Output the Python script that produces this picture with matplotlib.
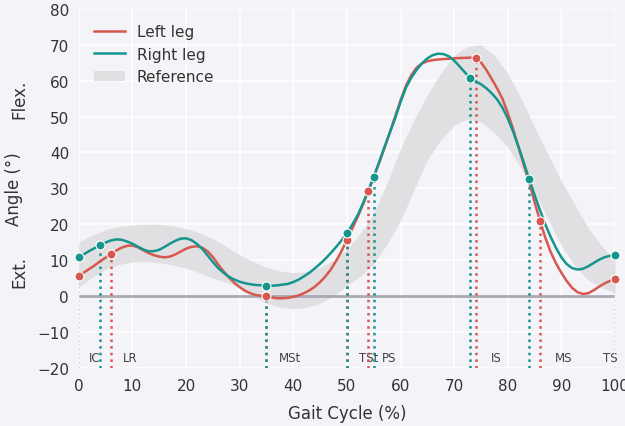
import numpy as np
import matplotlib
matplotlib.use("Agg")
import matplotlib.pyplot as plt
from matplotlib.patches import Patch
from matplotlib.lines import Line2D

# gait cycle (%) and knee angles, one value per 1 %
cycle = list(range(0, 101))
left_y = [5.7, 6.6, 7.6, 8.6, 9.7, 10.7, 11.7, 12.7, 13.5, 14.0,
          14.1, 13.6, 12.8, 12.0, 11.4, 11.0, 10.8, 11.0, 11.6, 12.4,
          13.2, 13.7, 13.9, 13.5, 12.5, 10.9, 8.8, 6.9, 5.2, 3.7,
          2.5, 1.5, 0.8, 0.3, 0.1, -0.1, -0.4, -0.6, -0.6, -0.5,
          -0.2, 0.2, 0.8, 1.6, 2.6, 3.9, 5.5, 7.4, 9.8, 12.5,
          15.7, 18.8, 22.0, 25.5, 29.2, 33.0, 37.0, 41.2, 45.5, 50.0,
          54.5, 58.5, 61.5, 63.6, 64.8, 65.4, 65.7, 65.9, 66.0, 66.1,
          66.2, 66.3, 66.35, 66.4, 66.3, 65.1, 63.0, 60.5, 57.9, 55.0,
          51.0, 46.5, 41.5, 36.5, 31.7, 26.2, 21.0, 16.3, 12.3, 9.1,
          6.5, 4.2, 2.3, 1.1, 0.6, 0.8, 1.6, 2.6, 3.5, 4.2,
          4.7]
right_y = [10.8, 11.7, 12.6, 13.4, 14.1, 14.9, 15.5, 15.8, 15.7, 15.2,
           14.6, 13.8, 13.0, 12.5, 12.5, 12.9, 13.7, 14.6, 15.4, 16.0,
           16.1, 15.6, 14.6, 13.2, 11.4, 9.5, 7.8, 6.5, 5.4, 4.6,
           4.0, 3.6, 3.3, 3.1, 3.0, 2.9, 2.9, 3.0, 3.2, 3.4,
           3.9, 4.6, 5.5, 6.5, 7.7, 9.0, 10.4, 12.0, 13.7, 15.5,
           17.5, 19.9, 22.5, 25.8, 29.5, 33.2, 37.3, 41.5, 45.5, 49.5,
           54.0, 58.0, 60.8, 63.0, 64.8, 66.2, 67.1, 67.5, 67.4, 66.8,
           65.6, 64.0, 62.3, 60.8, 59.8, 59.0, 57.9, 56.5, 54.8, 52.5,
           49.5, 45.8, 41.6, 37.2, 32.5, 28.2, 24.0, 20.0, 16.5, 13.4,
           10.8, 8.9, 7.8, 7.4, 7.6, 8.3, 9.2, 10.1, 10.8, 11.2,
           11.4]

# normative reference band
ref_x = [0, 2.5, 5, 7.5, 10, 12.5, 15, 17.5, 20, 22.5, 25, 27.5, 30, 32.5, 35, 37.5, 40, 42.5, 45, 47.5,
         50, 52.5, 55, 57.5, 60, 62.5, 65, 67.5, 70, 72.5, 75, 77.5, 80, 82.5, 85, 87.5, 90, 92.5, 95, 97.5, 100]
ref_upper = [15, 17, 18.5, 19.4, 19.8, 20, 20, 19.6, 18.8, 17.6, 16, 13.8, 11.5, 9.6, 8, 7, 6.5, 6.8, 8, 10,
             13, 17.5, 23, 31.5, 41, 49, 56, 62, 67, 69.5, 70, 67, 62, 55, 47, 39.5, 32, 25.5, 19, 14, 10]
ref_lower = [2.5, 5.2, 7.5, 8.8, 9.5, 9.6, 9.3, 8.7, 7.8, 6.5, 5, 3.8, 2.5, 0.2, -2, -3.1, -3.5, -3.1, -2, 0,
             3, 5.5, 9, 14.5, 21, 29.5, 38, 43.5, 47.5, 49.3, 48.5, 45.5, 41.5, 35.5, 29, 21.5, 14, 8.5, 4.5, 2.3, 1]

# gait events (% of cycle)
left_events = [6, 35, 50, 54, 74, 86]
right_events = [4, 35, 50, 55, 73, 84]
ends = [0, 100]

phase_names = ["IC", "LR", "MSt", "TSt", "PS", "IS", "MS", "TS"]
phase_pos = [1.8, 8.2, 37.3, 52.3, 56.6, 76.8, 88.8, 97.7]

red = "#d6584f"
teal = "#14968f"
bg = "#f4f4f8"

fig = plt.figure(figsize=(6.25, 4.27), dpi=100, facecolor=bg)
ax = fig.add_axes([0.126, 0.136, 0.858, 0.841])
ax.set_facecolor(bg)
ax.grid(True, color="white", linewidth=1.1, zorder=0)
ax.set_axisbelow(True)
for s in ax.spines.values():
    s.set_visible(False)
ax.tick_params(length=0, labelsize=11, colors="#333333", pad=7)

ax.fill_between(ref_x, ref_lower, ref_upper, color="#e0e0e2", linewidth=0, zorder=1)
ax.axhline(0, color="#a9a9b3", linewidth=2, zorder=2)

ax.plot(cycle, left_y, color=red, linewidth=1.8, zorder=4)
ax.plot(cycle, right_y, color=teal, linewidth=1.8, zorder=5)

for ex in ends:
    ax.plot([ex, ex], [-20, left_y[ex]], color="#cfd0d8", linestyle=":", linewidth=1.2, zorder=3)

for ex in left_events:
    ax.plot([ex, ex], [-20, left_y[ex]], color=red, linestyle=":", linewidth=1.8, zorder=3)
for ex in right_events:
    ax.plot([ex, ex], [-20, right_y[ex]], color=teal, linestyle=":", linewidth=1.8, zorder=3)

lx = ends[:1] + left_events + ends[1:]
rx = ends[:1] + right_events + ends[1:]
ax.scatter(lx, [left_y[i] for i in lx], s=42, color=red, edgecolor="white", linewidth=0.8, zorder=6, clip_on=False)
ax.scatter(rx, [right_y[i] for i in rx], s=42, color=teal, edgecolor="white", linewidth=0.8, zorder=7, clip_on=False)

for name, px in zip(phase_names, phase_pos):
    ax.text(px, -17.2, name, fontsize=8.5, color="#444444", ha="left", va="center", zorder=2.5)

ax.set_xlim(0, 100)
ax.set_ylim(-20, 80)
ax.set_xticks(range(0, 101, 10))
ax.set_yticks(range(-20, 81, 10))
ax.set_xlabel("Gait Cycle (%)", fontsize=12, color="#333333", labelpad=8)
ax.set_ylabel("Angle (°)", fontsize=12, color="#333333", labelpad=10)
ax.text(-0.11, 0.75, "Flex.", transform=ax.transAxes, rotation=90, fontsize=12, color="#333333", ha="center", va="center")
ax.text(-0.11, 0.27, "Ext.", transform=ax.transAxes, rotation=90, fontsize=12, color="#333333", ha="center", va="center")

handles = [Line2D([], [], color=red, linewidth=1.8),
           Line2D([], [], color=teal, linewidth=1.8),
           Patch(facecolor="#e0e0e2", edgecolor="none")]
ax.legend(handles, ["Left leg", "Right leg", "Reference"], loc="upper left", frameon=False, fontsize=11,
          handlelength=2.0, borderaxespad=0.6, labelcolor="#333333")

fig.savefig("out.png", dpi=100, facecolor=bg)
